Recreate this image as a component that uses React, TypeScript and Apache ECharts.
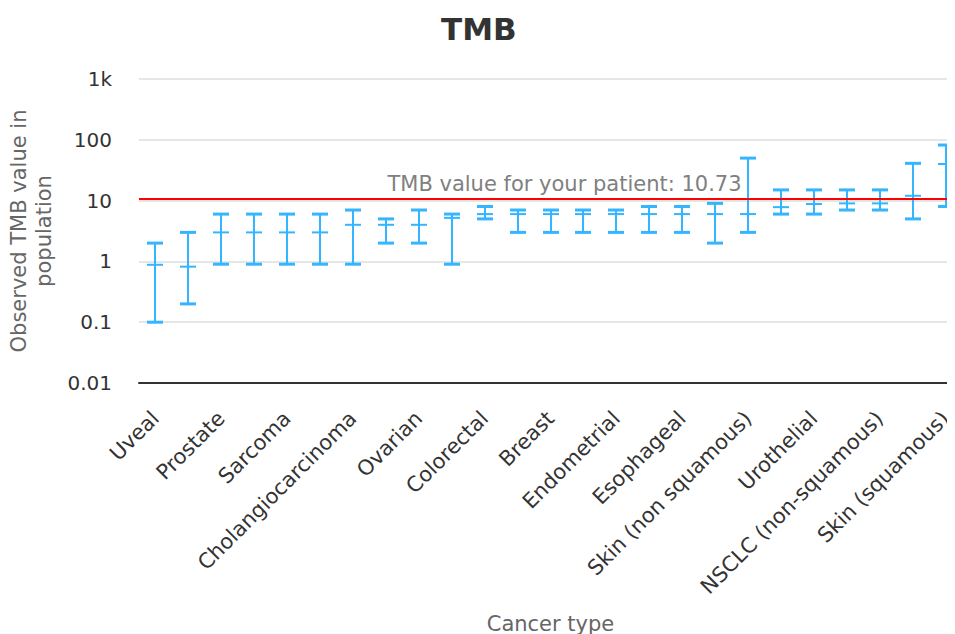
import React, { useEffect, useRef } from "react";
import * as echarts from "echarts";

const categories = [
  "Uveal", "Thyroid", "Prostate", "Pancreatic", "Sarcoma", "Glioma",
  "Cholangiocarcinoma", "Renal", "Ovarian", "Mesothelioma", "Colorectal",
  "Gastric", "Breast", "Hepatocellular", "Endometrial", "Head and neck",
  "Esophageal", "Cervical", "Skin (non squamous)", "SCLC", "Urothelial",
  "NSCLC (squamous)", "NSCLC (non-squamous)", "Melanoma", "Skin (squamous)",
];
const lowValues = [0.1, 0.2, 0.9, 0.9, 0.9, 0.9, 0.9, 2, 2, 0.9, 5, 3, 3, 3, 3, 3, 3, 2, 3, 6, 6, 7, 7, 5, 8];
const medianValues = [0.88, 0.82, 3, 3, 3, 3, 4, 4, 4, 5.2, 6, 6, 6, 6, 6, 6, 6, 6, 6, 7.8, 8.8, 9, 9, 12, 40];
const highValues = [2, 3, 6, 6, 6, 6, 7, 5, 7, 6, 8, 7, 7, 7, 7, 8, 8, 9, 50, 15, 15, 15, 15, 41, 82];
const yTickLabels: Record<string, string> = { "0.01": "0.01", "0.1": "0.1", "1": "1", "10": "10", "100": "100", "1000": "1k" };
const patientValue = 10.73;

const FONT = "DejaVu Sans";
const BAR = "#33b5ff";

export default function App() {
  const ref = useRef<HTMLDivElement>(null);
  useEffect(() => {
    if (!ref.current) return;
    const chart = echarts.init(ref.current, undefined, { renderer: "svg" });
    const data = categories.map((_, i) => [i, lowValues[i], medianValues[i], highValues[i]]);
    chart.setOption({
      animation: false,
      textStyle: { fontFamily: FONT },
      title: {
        text: "TMB",
        left: 428,
        top: 0,
        textStyle: { fontFamily: FONT, fontSize: 31, fontWeight: "bold", color: "#333333" },
      },
      grid: { left: 131, right: 1, top: 71, bottom: 259, containLabel: false, outerBoundsMode: "none" },
      xAxis: {
        type: "category",
        data: categories,
        name: "Cancer type",
        nameLocation: "middle",
        nameGap: 230,
        nameTextStyle: { fontFamily: FONT, fontSize: 21, color: "#666666" },
        axisLine: { show: true, lineStyle: { color: "#333333", width: 2 } },
        axisTick: { show: false },
        axisLabel: {
          interval: 1,
          rotate: 45,
          margin: 32,
          fontFamily: FONT,
          fontSize: 21,
          color: "#333333",
        },
        splitLine: { show: false },
      },
      yAxis: {
        type: "log",
        logBase: 10,
        min: 0.01,
        max: 1000,
        name: "Observed TMB value in\npopulation",
        nameLocation: "middle",
        nameGap: 82,
        nameRotate: 90,
        nameTextStyle: { fontFamily: FONT, fontSize: 21, color: "#666666", lineHeight: 25 },
        axisLine: { show: false },
        axisTick: { show: false },
        axisLabel: {
          margin: 27,
          fontFamily: FONT,
          fontSize: 20,
          color: "#333333",
          formatter: (v: number) => {
            const k = String(Number(v.toPrecision(6)));
            return yTickLabels[k] ?? k;
          },
        },
        splitLine: { show: true, lineStyle: { color: "#e6e6e6", width: 2 } },
      },
      series: [
        {
          type: "custom",
          data,
          renderItem: (params: any, api: any) => {
            const i = api.value(0);
            const lo = api.coord([i, api.value(1)]);
            const md = api.coord([i, api.value(2)]);
            const hi = api.coord([i, api.value(3)]);
            const x = Math.round(lo[0]);
            const hw = 8;
            return {
              type: "group",
              children: [
                { type: "line", shape: { x1: x, y1: hi[1], x2: x, y2: lo[1] }, style: { stroke: BAR, lineWidth: 2 } },
                { type: "line", shape: { x1: x - hw, y1: hi[1], x2: x + hw, y2: hi[1] }, style: { stroke: BAR, lineWidth: 3 } },
                { type: "line", shape: { x1: x - hw, y1: lo[1], x2: x + hw, y2: lo[1] }, style: { stroke: BAR, lineWidth: 3 } },
                { type: "line", shape: { x1: x - hw, y1: md[1], x2: x + hw, y2: md[1] }, style: { stroke: BAR, lineWidth: 2 } },
              ],
            };
          },
          markLine: {
            silent: true,
            symbol: "none",
            lineStyle: { color: "#ff0000", width: 2, type: "solid" },
            label: {
              show: true,
              position: "insideMiddleTop",
              formatter: "TMB value for your patient: " + patientValue,
              fontFamily: FONT,
              fontSize: 21,
              color: "#808080",
              distance: 4,
              offset: [14, 0],
            },
            data: [{ yAxis: patientValue }],
          },
          z: 3,
        },
      ],
    });
    return () => chart.dispose();
  }, []);
  return (
    <div style={{ width: 947, height: 626, overflow: "hidden" }}>
      <div ref={ref} style={{ width: 955, height: 634 }} />
    </div>
  );
}
